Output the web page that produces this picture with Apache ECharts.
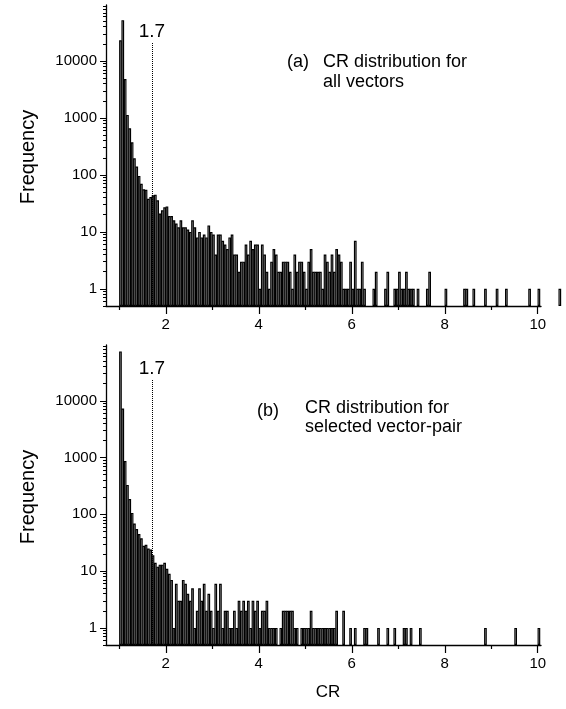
<!DOCTYPE html>
<html>
<head>
<meta charset="utf-8">
<script src="https://cdn.jsdelivr.net/npm/echarts@6/dist/echarts.min.js"></script>
<style>
  html, body { margin: 0; padding: 0; background: #fff; }
  #main { width: 566px; height: 709px; }
</style>
</head>
<body>
<div id="main"></div>
<script>
// histogram bins: start of first bin and bin width (CR units)
var binStart = 1.0;
var binWidth = 0.05;

// (a) all vectors - counts per bin
var countsA = [
  23000, 52000, 4800, 1130, 660, 375, 196, 140, 96, 70,
  56, 55, 38, 41, 44, 45, 36, 21, 24, 27,
  28, 19, 19, 16, 14, 12, 16, 12, 12, 11,
  10, 16, 12, 8, 10, 8, 9, 8, 13, 10,
  9, 4, 9, 9, 7, 6, 5, 8, 9, 4,
  4, 2, 3, 3, 6, 4, 7, 5, 6, 6,
  1, 6, 4, 2, 1, 3, 5, 4, 2, 2,
  3, 3, 3, 2, 1, 4, 2, 3, 3, 2,
  1, 3, 5, 2, 2, 2, 2, 1, 4, 3,
  2, 4, 2, 5, 4, 3, 1, 1, 1, 3,
  1, 7, 1, 1, 3, 1, 0, 0, 0, 1,
  2, 0, 0, 0, 1, 2, 0, 0, 1, 1,
  2, 1, 1, 2, 1, 1, 1, 0, 1, 0,
  0, 0, 1, 2, 0, 0, 0, 0, 0, 0,
  1, 0, 0, 0, 0, 0, 0, 0, 1, 1,
  0, 0, 1, 0, 0, 0, 0, 1, 0, 0,
  0, 0, 1, 0, 0, 0, 1, 0, 0, 0,
  0, 0, 0, 0, 0, 0, 1, 0, 0, 0,
  1, 0, 0, 0, 0, 0, 0, 0, 0, 1
];

// (b) selected vector-pair - counts per bin
var countsB = [
  74000, 7330, 870, 330, 186, 106, 69, 55, 45, 38,
  28, 29, 25, 24, 19, 14, 12, 13, 13, 14,
  11, 9, 7, 1, 6, 3, 3, 7, 6, 4,
  3, 5, 1, 2, 5, 3, 6, 2, 4, 2,
  1, 6, 2, 6, 1, 2, 2, 1, 1, 2,
  1, 3, 2, 3, 2, 3, 1, 3, 2, 3,
  1, 2, 2, 3, 1, 1, 1, 1, 0, 1,
  2, 2, 2, 2, 2, 1, 1, 0, 1, 1,
  1, 1, 2, 1, 1, 1, 1, 1, 1, 1,
  1, 1, 1, 2, 0, 0, 2, 0, 0, 1,
  0, 1, 0, 0, 0, 1, 1, 0, 0, 0,
  0, 1, 0, 0, 0, 1, 0, 0, 1, 0,
  0, 0, 1, 1, 0, 1, 0, 0, 0, 1,
  0, 0, 0, 0, 0, 0, 0, 0, 0, 0,
  0, 0, 0, 0, 0, 0, 0, 0, 0, 0,
  0, 0, 0, 0, 0, 0, 0, 1, 0, 0,
  0, 0, 0, 0, 0, 0, 0, 0, 0, 0,
  1, 0, 0, 0, 0, 0, 0, 0, 0, 0,
  1
];

var cutoff = 1.7;
var xMajorTicks = [2, 4, 6, 8, 10];
var xMinorTicks = [1, 3, 5, 7, 9];
var yMajorTicks = [1, 10, 100, 1000, 10000];
var yMinorSteps = [2, 3, 4, 5, 6, 7, 8, 9];
var yDecades = [0.1, 1, 10, 100, 1000, 10000];

var xMin = 0.714, xMax = 10.07;
var yMin = 0.5, yMax = 96000;
var font = 'Liberation Sans, Arial, sans-serif';

function toBars(counts) {
  var out = [];
  counts.forEach(function (v, i) {
    if (v > 0) out.push([binStart + i * binWidth + binWidth / 2, v]);
  });
  return out;
}

var yMinorTicks = [];
yDecades.forEach(function (d) {
  yMinorSteps.forEach(function (k) {
    var v = k * d;
    if (v >= yMin && v <= yMax) yMinorTicks.push(Math.log10(v));
  });
});

var grids = [
  { left: 106, top: 5, width: 435, height: 301, outerBoundsMode: 'none' },
  { left: 106, top: 345, width: 435, height: 300, outerBoundsMode: 'none' }
];

var xAxes = [], yAxes = [];
grids.forEach(function (g, gi) {
  xAxes.push({
    gridIndex: gi, type: 'value', position: 'bottom', min: xMin, max: xMax,
    axisLine: { show: true, onZero: false, lineStyle: { color: '#000', width: 1.3 } },
    axisTick: { show: true, customValues: xMajorTicks, length: 8, lineStyle: { color: '#000', width: 1.2 } },
    axisLabel: { show: true, customValues: xMajorTicks, margin: 11, color: '#000', fontSize: 15, fontFamily: font },
    splitLine: { show: false }
  });
  xAxes.push({
    gridIndex: gi, type: 'value', position: 'bottom', min: xMin, max: xMax,
    axisLine: { show: false, onZero: false },
    axisTick: { show: true, customValues: xMinorTicks, length: 4, lineStyle: { color: '#000', width: 1.2 } },
    axisLabel: { show: false },
    splitLine: { show: false }
  });
  // log axis used by the bars
  yAxes.push({
    gridIndex: gi, type: 'log', position: 'left', min: yMin, max: yMax, startValue: yMin,
    axisLine: { show: true, onZero: false, lineStyle: { color: '#000', width: 1.3 } },
    axisTick: { show: false }, axisLabel: { show: false }, splitLine: { show: false }
  });
  // decade ticks and labels (log10 space)
  yAxes.push({
    gridIndex: gi, type: 'value', position: 'left', min: Math.log10(yMin), max: Math.log10(yMax),
    axisLine: { show: false, onZero: false },
    axisTick: { show: true, customValues: yMajorTicks.map(Math.log10), length: 6, lineStyle: { color: '#000', width: 1 } },
    axisLabel: {
      show: true, customValues: yMajorTicks.map(Math.log10), margin: 9,
      color: '#000', fontSize: 15, fontFamily: font,
      formatter: function (v) { return String(Math.round(Math.pow(10, v))); }
    },
    splitLine: { show: false }
  });
  // minor log ticks
  yAxes.push({
    gridIndex: gi, type: 'value', position: 'left', min: Math.log10(yMin), max: Math.log10(yMax),
    axisLine: { show: false, onZero: false },
    axisTick: { show: true, customValues: yMinorTicks, length: 3, lineStyle: { color: '#000', width: 1 } },
    axisLabel: { show: false }, splitLine: { show: false }
  });
});

function histSeries(gi, counts, lineTop) {
  return {
    type: 'bar',
    xAxisIndex: gi * 2,
    yAxisIndex: gi * 3,
    barWidth: 2.7,
    clip: false,
    itemStyle: { color: '#fff', borderColor: '#000', borderWidth: 1.2 },
    data: toBars(counts),
    markLine: {
      silent: true,
      symbol: ['none', 'none'],
      lineStyle: { type: 'dotted', color: '#000', width: 1 },
      label: { show: true, position: 'end', formatter: String(cutoff), color: '#000', fontSize: 19, fontFamily: font, distance: 1 },
      data: [[{ coord: [cutoff, yMin] }, { coord: [cutoff, lineTop] }]]
    }
  };
}

var textStyleBase = { fill: '#000', fontSize: 18, fontFamily: font };
function txt(x, y, s, extra) {
  var st = Object.assign({ text: s, textVerticalAlign: 'middle' }, textStyleBase, extra || {});
  return { type: 'text', x: x, y: y, style: st };
}

var chart = echarts.init(document.getElementById('main'));
chart.setOption({
  backgroundColor: '#fff',
  animation: false,
  grid: grids,
  xAxis: xAxes,
  yAxis: yAxes,
  series: [
    histSeries(0, countsA, 21000),
    histSeries(1, countsB, 24000)
  ],
  graphic: [
    txt(287, 62, '(a)'),
    txt(323, 62, 'CR distribution for'),
    txt(323, 82, 'all vectors'),
    txt(257, 411, '(b)'),
    txt(305, 408, 'CR distribution for'),
    txt(305, 427, 'selected vector-pair'),
    txt(328, 692, 'CR', { textAlign: 'center', fontSize: 17 }),
    { type: 'text', x: 28, y: 157, rotation: Math.PI / 2,
      style: Object.assign({}, textStyleBase, { text: 'Frequency', fontSize: 20, textAlign: 'center', textVerticalAlign: 'middle' }) },
    { type: 'text', x: 28, y: 497, rotation: Math.PI / 2,
      style: Object.assign({}, textStyleBase, { text: 'Frequency', fontSize: 20, textAlign: 'center', textVerticalAlign: 'middle' }) }
  ]
});
</script>
</body>
</html>
